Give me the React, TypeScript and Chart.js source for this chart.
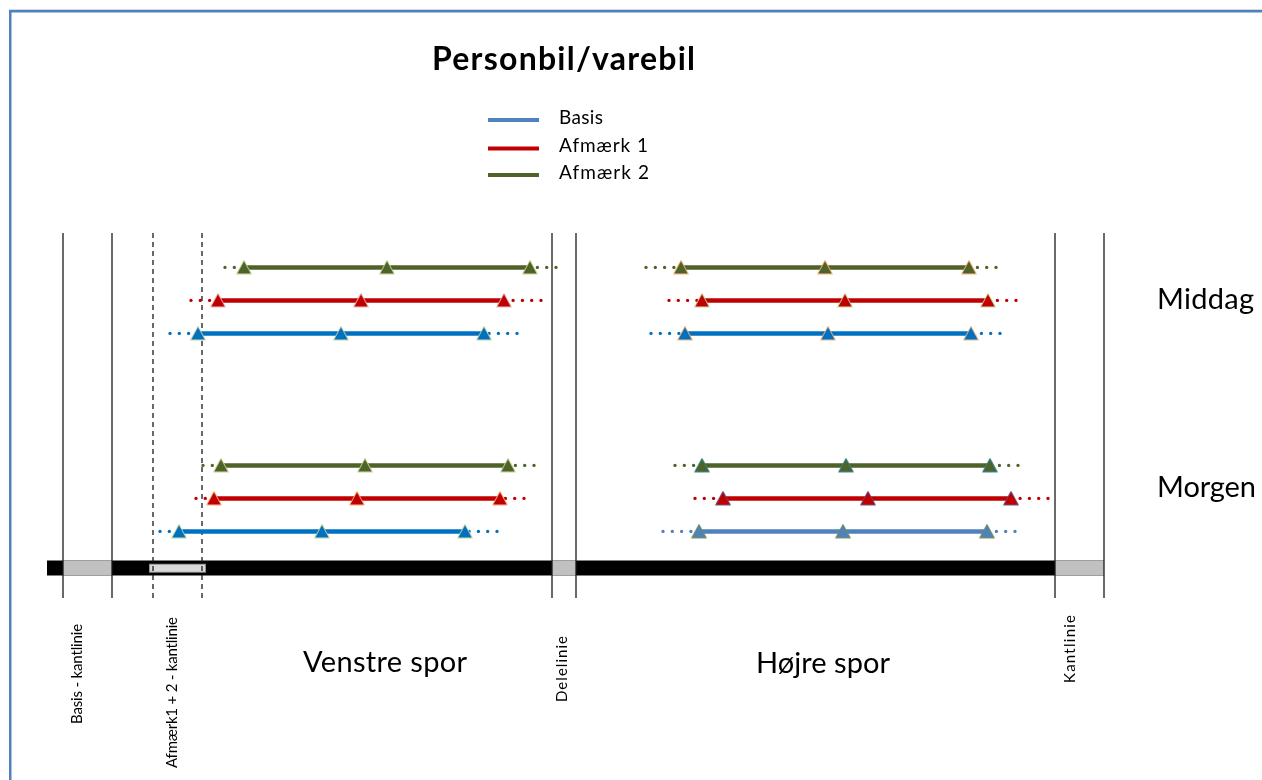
import React, { useEffect, useRef } from 'react';
import { Chart, registerables } from 'chart.js';

Chart.register(...registerables);

// ---------- DATA (lateral positions across the road, diagram units) ----------
// Case order: [Middag – Venstre spor, Middag – Højre spor, Morgen – Venstre spor, Morgen – Højre spor]
const periods = ['Middag', 'Morgen'];
const lanes = ['Venstre spor', 'Højre spor'];
const seriesNames = ['Basis', 'Afmærk 1', 'Afmærk 2'];

// Basis
const basisLeft = [198, 685, 179, 699];
const basisCenter = [341, 828, 322, 843];
const basisRight = [484, 971, 465, 987];
const basisSpreadMin = [170, 651, 160, 663];
const basisSpreadMax = [517, 1000, 497, 1015];

// Afmærk 1
const afm1Left = [218, 702, 214, 723];
const afm1Center = [361, 845, 357, 868];
const afm1Right = [504, 988, 500, 1011];
const afm1SpreadMin = [191, 669, 196, 695];
const afm1SpreadMax = [541, 1016, 524, 1048];

// Afmærk 2
const afm2Left = [244, 681, 221, 702];
const afm2Center = [387, 825, 365, 846];
const afm2Right = [530, 969, 508, 990];
const afm2SpreadMin = [225, 646, 203, 675];
const afm2SpreadMax = [556, 996, 534, 1018];

// Road geometry
const roadStart = 47;
const roadEnd = 1104;
const solidMarkLines = [63, 112, 552, 576, 1055, 1104];
const dashedMarkLines = [153, 202];
const greyBands = [
  [63, 112],
  [552, 576],
  [1055, 1104],
];
const afmBand = [150, 205];

// Marking labels (x position of the text baseline, rotated text)
const markLabels = ['Basis - kantlinie', 'Afmærk1 + 2 - kantlinie', 'Delelinie', 'Kantlinie'];
const markLabelX = [82, 177, 567, 1075];

// ---------- STYLE ----------
const seriesColors = [
  ['#0070C0', '#0070C0', '#0070C0', '#4F81BD'],
  ['#C00000', '#C00000', '#C00000', '#C00000'],
  ['#4F6228', '#4F6228', '#4F6228', '#4F6228'],
];
const outlineColors = [
  ['#C4D79B', '#F9B17A', '#C4D79B', '#76923C'],
  ['#E6B9B8', '#C4D79B', '#F9B17A', '#5F497A'],
  ['#C4D79B', '#F9B17A', '#C4D79B', '#31859C'],
];
const legendColors = ['#4F81BD', '#C00000', '#4F6228'];

const ROW_PX = 33;
const ROW0_PX = 267.4;

function makeTriangle(fill: string, stroke: string) {
  const c = document.createElement('canvas');
  c.width = 18;
  c.height = 16;
  const g = c.getContext('2d')!;
  g.beginPath();
  g.moveTo(9, 1);
  g.lineTo(16.4, 14.6);
  g.lineTo(1.6, 14.6);
  g.closePath();
  g.fillStyle = fill;
  g.fill();
  g.lineWidth = 1;
  g.strokeStyle = stroke;
  g.stroke();
  return c;
}

function fitText(
  ctx: CanvasRenderingContext2D,
  text: string,
  x: number,
  y: number,
  font: string,
  width: number,
  rotate = false
) {
  ctx.save();
  ctx.font = font;
  (ctx as any).letterSpacing = '0px';
  const n = Array.from(text).length;
  const w0 = ctx.measureText(text).width;
  const ls = n > 1 ? (width - w0) / (n - 1) : 0;
  (ctx as any).letterSpacing = ls.toFixed(2) + 'px';
  ctx.translate(x, y);
  if (rotate) ctx.rotate(-Math.PI / 2);
  ctx.textAlign = 'left';
  ctx.textBaseline = 'alphabetic';
  ctx.fillStyle = '#000';
  ctx.fillText(text, 0, 0);
  ctx.restore();
}

const decorPlugin = {
  id: 'decor',
  afterDraw(chart: any) {
    const ctx: CanvasRenderingContext2D = chart.ctx;
    const xs = chart.scales.x;
    ctx.save();
    // frame
    ctx.fillStyle = '#D3DAE4';
    ctx.fillRect(9, 9, 1262, 1);
    ctx.fillStyle = '#4F81BD';
    ctx.fillRect(9, 10, 1262, 2.5);
    ctx.fillRect(9, 10, 2.5, 780);

    // title
    fitText(ctx, 'Personbil/varebil', 432, 70, 'bold 32px Lato', 263);

    // legend
    const legY = [120, 148.5, 175];
    const legBase = [124, 152, 179];
    const legW = [44, 89, 90];
    seriesNames.forEach((name, i) => {
      ctx.strokeStyle = legendColors[i];
      ctx.lineWidth = 4;
      ctx.beginPath();
      ctx.moveTo(488, legY[i]);
      ctx.lineTo(539, legY[i]);
      ctx.stroke();
      fitText(ctx, name, 559, legBase[i], '19px Lato', legW[i]);
    });

    // period labels
    fitText(ctx, periods[0], 1157, 309, '29px Lato', 97);
    fitText(ctx, periods[1], 1157, 497, '29px Lato', 99);

    // lane labels
    fitText(ctx, lanes[0], 303, 672, '29px Lato', 164);
    fitText(ctx, lanes[1], 756, 673, '29px Lato', 134);

    // marking labels (rotated)
    const startY = [724, 768, 702, 683];
    const lens = [100, 151, 66, 68];
    markLabels.forEach((t, i) => {
      fitText(ctx, t, xs.getPixelForValue(markLabelX[i]), startY[i], '15px Lato', lens[i], true);
    });
    ctx.restore();
  },
};

export default function App() {
  const ref = useRef<HTMLCanvasElement>(null);

  useEffect(() => {
    const canvas = ref.current!;
    const series = [
      { left: basisLeft, center: basisCenter, right: basisRight, min: basisSpreadMin, max: basisSpreadMax },
      { left: afm1Left, center: afm1Center, right: afm1Right, min: afm1SpreadMin, max: afm1SpreadMax },
      { left: afm2Left, center: afm2Center, right: afm2Right, min: afm2SpreadMin, max: afm2SpreadMax },
    ];

    const datasets: any[] = [];
    series.forEach((s, si) => {
      for (let c = 0; c < 4; c++) {
        const period = c < 2 ? 0 : 1;
        const row = period * 6 + (2 - si);
        const col = seriesColors[si][c];
        datasets.push({
          label: seriesNames[si],
          showLine: true,
          data: [
            { x: s.left[c], y: row },
            { x: s.center[c], y: row },
            { x: s.right[c], y: row },
          ],
          borderColor: col,
          borderWidth: 4.5,
          borderCapStyle: 'butt',
          pointStyle: makeTriangle(col, outlineColors[si][c]),
          pointRadius: 8,
          order: 0,
        });
        datasets.push({
          label: seriesNames[si] + ' spredning',
          showLine: true,
          data: [
            { x: s.min[c], y: row },
            { x: s.left[c], y: row },
            { x: s.center[c], y: null },
            { x: s.max[c], y: row },
            { x: s.right[c], y: row },
          ],
          borderColor: col,
          borderWidth: 3.4,
          borderDash: [0, 9.3],
          borderCapStyle: 'round',
          pointRadius: 0,
          spanGaps: false,
          order: 1,
        });
      }
    });

    const topRow = (233 - ROW0_PX) / ROW_PX;
    const botRow = (598 - ROW0_PX) / ROW_PX;
    const roadRow = (568 - ROW0_PX) / ROW_PX;
    const bandRow = (568.3 - ROW0_PX) / ROW_PX;

    const vertData = (xs: number[]) => {
      const d: any[] = [];
      xs.forEach((x) => {
        d.push({ x, y: topRow }, { x, y: botRow }, { x, y: null });
      });
      return d;
    };

    datasets.push({
      label: 'linjer',
      showLine: true,
      data: vertData(solidMarkLines),
      borderColor: '#1a1a1a',
      borderWidth: 1.3,
      pointRadius: 0,
      order: 2,
    });
    datasets.push({
      label: 'stiplede linjer',
      showLine: true,
      data: vertData(dashedMarkLines),
      borderColor: '#1a1a1a',
      borderWidth: 1.3,
      borderDash: [5, 4],
      pointRadius: 0,
      order: 2,
    });

    const bandData: any[] = [];
    greyBands.forEach(([a, b]) => {
      bandData.push({ x: a, y: roadRow }, { x: b, y: roadRow }, { x: b, y: null });
    });
    datasets.push({
      label: 'afmærk',
      showLine: true,
      data: [
        { x: afmBand[0], y: bandRow },
        { x: afmBand[1], y: bandRow },
      ],
      borderColor: '#DADADA',
      borderWidth: 7,
      borderCapStyle: 'butt',
      pointRadius: 0,
      order: 3,
    });
    datasets.push({
      label: 'afmærk kant',
      showLine: true,
      data: [
        { x: afmBand[0] - 1, y: bandRow },
        { x: afmBand[1] + 1, y: bandRow },
      ],
      borderColor: '#8C8C8C',
      borderWidth: 9,
      borderCapStyle: 'butt',
      pointRadius: 0,
      order: 4,
    });
    datasets.push({
      label: 'kantlinjer',
      showLine: true,
      data: bandData,
      borderColor: '#C0C0C0',
      borderWidth: 15,
      borderCapStyle: 'butt',
      pointRadius: 0,
      order: 5,
    });
    datasets.push({
      label: 'vej',
      showLine: true,
      data: [
        { x: roadStart, y: roadRow },
        { x: roadEnd, y: roadRow },
      ],
      borderColor: '#000000',
      borderWidth: 15,
      borderCapStyle: 'butt',
      pointRadius: 0,
      order: 6,
    });

    const chart = new Chart(canvas, {
      type: 'scatter',
      data: { datasets },
      options: {
        responsive: false,
        maintainAspectRatio: false,
        animation: false,
        events: [],
        layout: { padding: 0, autoPadding: false },
        plugins: {
          legend: { display: false },
          tooltip: { enabled: false },
          title: { display: false },
        },
        scales: {
          x: { type: 'linear', min: 0, max: 1262, display: false },
          y: {
            type: 'linear',
            min: -ROW0_PX / ROW_PX,
            max: (780 - ROW0_PX) / ROW_PX,
            reverse: true,
            display: false,
          },
        },
      },
      plugins: [decorPlugin],
    } as any);

    return () => chart.destroy();
  }, []);

  return (
    <div style={{ position: 'fixed', left: 0, top: 0, width: 1262, height: 780, background: '#fff' }}>
      <canvas ref={ref} width={1262} height={780} style={{ display: 'block', width: 1262, height: 780 }} />
    </div>
  );
}
